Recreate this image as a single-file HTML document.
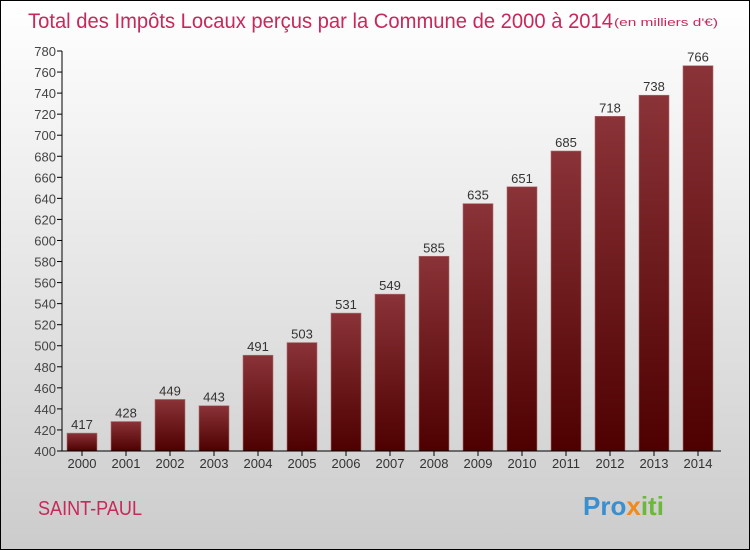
<!DOCTYPE html>
<html><head><meta charset="utf-8"><style>
body{margin:0}
#c{width:748px;height:548px;border:1px solid #000;background:linear-gradient(#fff,#ccc);position:relative;overflow:hidden;font-family:"Liberation Sans",sans-serif}
</style></head><body>
<div id="c">
<svg width="748" height="548" style="position:absolute;left:0;top:0">
<defs><linearGradient id="g" x1="0" y1="0" x2="0" y2="1"><stop offset="0" stop-color="#8a3338"/><stop offset="1" stop-color="#4e0000"/></linearGradient></defs>
<text x="27" y="27" font-size="21" fill="#c8285a" textLength="585" lengthAdjust="spacingAndGlyphs">Total des Impôts Locaux perçus par la Commune de 2000 à 2014</text>
<text x="613" y="25" font-size="11" fill="#c8285a" textLength="104" lengthAdjust="spacingAndGlyphs">(en milliers d'€)</text>
<text x="37" y="514" font-size="20" fill="#c8285a" textLength="104" lengthAdjust="spacingAndGlyphs">SAINT-PAUL</text>
<text x="582" y="514" font-size="26" font-weight="bold" fill="#3a8fd0">Pro<tspan fill="#f08a1a">x</tspan><tspan fill="#6cb83a">iti</tspan></text>
<g id="plot"></g>
</svg>
</div>
<script>
const years=["2000","2001","2002","2003","2004","2005","2006","2007","2008","2009","2010","2011","2012","2013","2014"];
const values=[417,428,449,443,491,503,531,549,585,635,651,685,718,738,766];
const yTicks=[400,420,440,460,480,500,520,540,560,580,600,620,640,660,680,700,720,740,760,780];
const NS="http://www.w3.org/2000/svg";
const g=document.getElementById('plot');
const y=v=>450-(v-400)*400/380;
const x=i=>81+i*44;
function el(t,a){const e=document.createElementNS(NS,t);for(const k in a)e.setAttribute(k,a[k]);g.appendChild(e);return e;}
yTicks.forEach(t=>{
 const l=el('line',{x1:56,x2:61,y1:y(t),y2:y(t),stroke:'#000'});
 
 
 const tx=el('text',{x:55,y:y(t)+5,'text-anchor':'end','font-size':13,fill:'#444'});
 tx.textContent=t;
 
 
});
values.forEach((v,i)=>{
 const r=el('rect',{x:x(i)-15,y:y(v),width:30,height:450-y(v),fill:'url(#g)',stroke:'#b07070','stroke-width':0.6});
 
 
 const vt=el('text',{x:x(i),y:y(v)-4,'text-anchor':'middle','font-size':13,fill:'#333'});
 vt.textContent=v;
 
 
 const tk=el('line',{x1:x(i),x2:x(i),y1:450,y2:455,stroke:'#000'});
 
 
 const xt=el('text',{x:x(i),y:467,'text-anchor':'middle','font-size':13,fill:'#333'});
 xt.textContent=years[i];
 
 
});
const ya=el('line',{x1:61,x2:61,y1:y(780),y2:450,stroke:'#000'});


const xa=el('line',{x1:61,x2:720,y1:450,y2:450,stroke:'#000'});


</script>
</body></html>
